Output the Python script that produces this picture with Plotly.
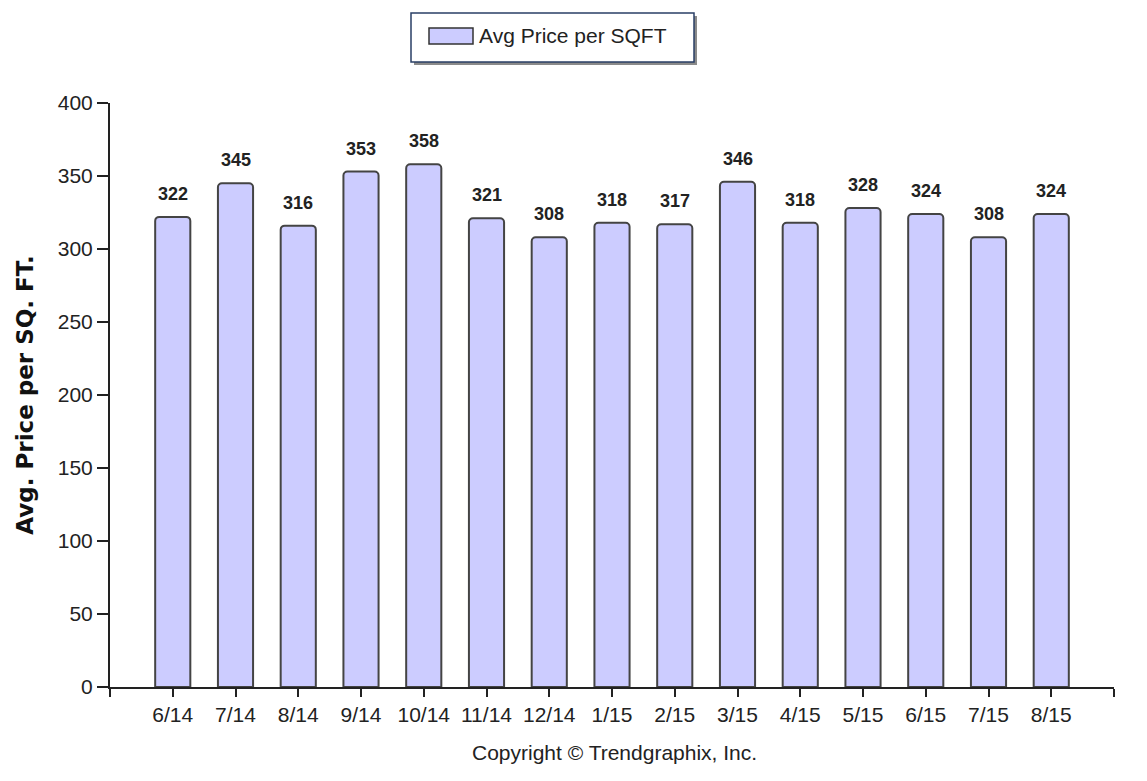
import plotly.graph_objects as go

months = ["6/14", "7/14", "8/14", "9/14", "10/14", "11/14", "12/14", "1/15",
          "2/15", "3/15", "4/15", "5/15", "6/15", "7/15", "8/15"]
avg_price = [322, 345, 316, 353, 358, 321, 308, 318, 317, 346, 318, 328, 324, 308, 324]
series_name = "Avg Price per SQFT"
y_ticks = [0, 50, 100, 150, 200, 250, 300, 350, 400]

OFF = 8  # page body margin
W, H = 1147 - OFF, 781 - OFF
ML, MR, MT, MB = 110 - OFF, 33, 103 - OFF, 94
PW, PH = W - ML - MR, H - MT - MB


def px(x):
    # x given in window pixels of the reference
    return (x - OFF - ML) / PW


def py(y):
    return (H - MB - (y - OFF)) / PH


FONT = "Liberation Sans, Arial, sans-serif"
xpos = list(range(len(months)))

fig = go.Figure()
fig.add_trace(go.Bar(
    x=xpos, y=avg_price, name=series_name, width=0.56,
    marker=dict(color="#CCCCFF", line=dict(color="#444444", width=2), cornerradius=4),
    showlegend=False,
))

# value labels above bars
for xi, v in zip(xpos, avg_price):
    fig.add_annotation(x=xi, y=v, text=str(v), showarrow=False, yanchor="bottom",
                       yshift=11, font=dict(family=FONT, size=18, color="#222222",
                                            weight="bold"),
                       xref="x", yref="y")

# manual legend box
shapes = [
    dict(type="rect", xref="paper", yref="paper", x0=px(414), x1=px(697), y0=py(65), y1=py(16),
         fillcolor="#8a8a8a", line=dict(width=0), layer="above"),
    dict(type="rect", xref="paper", yref="paper", x0=px(411), x1=px(694), y0=py(62), y1=py(13),
         fillcolor="white", line=dict(color="#2a3f66", width=1.5), layer="above"),
    dict(type="rect", xref="paper", yref="paper", x0=px(429), x1=px(473), y0=py(44), y1=py(28),
         fillcolor="#CCCCFF", line=dict(color="#333333", width=1.5), layer="above"),
]
fig.add_annotation(x=px(477), y=py(36), xref="paper", yref="paper", text=series_name,
                   showarrow=False, xanchor="left", yanchor="middle",
                   font=dict(family=FONT, size=21, color="#222222"))
fig.add_annotation(x=px(614), y=py(752), xref="paper", yref="paper",
                   text="Copyright \u00a9 Trendgraphix, Inc.", showarrow=False,
                   xanchor="center", yanchor="middle",
                   font=dict(family=FONT, size=21, color="#222222"))

fig.update_layout(
    width=W, height=H,
    margin=dict(l=ML, r=MR, t=MT, b=MB),
    paper_bgcolor="white", plot_bgcolor="white",
    shapes=shapes,
    font=dict(family=FONT, color="#222222"),
    xaxis=dict(
        range=[-1, 15], tickmode="array",
        tickvals=[-1] + xpos + [15], ticktext=[""] + months + [""],
        showgrid=False, zeroline=False, showline=True, linecolor="#222222", linewidth=2,
        ticks="outside", ticklen=8, tickwidth=2, tickcolor="#222222",
        tickfont=dict(family=FONT, size=21, color="#222222"),
    ),
    yaxis=dict(
        range=[0, 400], tickmode="array", tickvals=y_ticks,
        showgrid=False, zeroline=False, showline=True, linecolor="#222222", linewidth=2,
        ticks="outside", ticklen=11, tickwidth=2, tickcolor="#222222",
        tickfont=dict(family=FONT, size=21, color="#222222"),
        title=dict(text="Avg. Price per SQ. FT.", standoff=18,
                   font=dict(family="DejaVu Sans, Verdana, sans-serif", size=23,
                             color="#111111", weight="bold")),
    ),
)

fig.write_html("out.html")
